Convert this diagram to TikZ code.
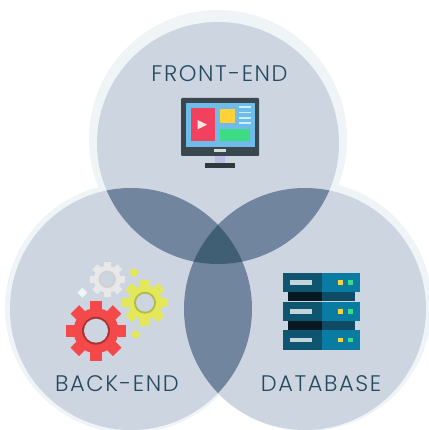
\documentclass[tikz,border=0pt]{standalone}
\usepackage{fontspec}
\setmainfont{Poppins Light}[LetterSpace=7]
\usepackage{xcolor}
\definecolor{mybase}{HTML}{CDD5E1}
\definecolor{myhalo}{HTML}{EFF4F7}
\definecolor{mylens}{HTML}{71859F}
\definecolor{mycore}{HTML}{415F74}
\definecolor{mytext}{HTML}{254A60}
\definecolor{mydark}{HTML}{3B474F}
\definecolor{myteal}{HTML}{0F5570}
\definecolor{mycyan}{HTML}{0A7BA3}
\definecolor{myscreen}{HTML}{6FBCE8}
\definecolor{myred}{HTML}{F2405F}
\definecolor{myyellow}{HTML}{FFD23A}
\definecolor{mygreen}{HTML}{3DDC84}
\definecolor{mygearred}{HTML}{F4494B}
\definecolor{mygearlime}{HTML}{E3E85A}
\tikzset{
  label/.style={inner sep=0,text=mytext,font=\fontsize{22.5}{24}\selectfont}
}
% gear: center, outer radius, root radius, hole radius, inner radius, colours
\newcommand{\mygear}[8]{
  \fill[#6] (#1) circle (#3);
  \foreach \ang in {0,45,...,315}{
    \fill[#6,rotate around={\ang:(#1)}] ([shift={(-#2*0.2,0)}]#1) ++(0,-#3+1) -- ++(#2*0.4,0) -- ++(0,-#2+#3-1) -- ++(-#2*0.4,0) -- cycle;
  }
  \fill[#7] (#1) circle (#4);
  \fill[#8] (#1) circle (#5);
}
\newcommand{\mysparkle}[3]{
  \fill[#3] (#1) ++(-#2,0) -- ++(#2,-#2) -- ++(#2,#2) -- ++(-#2,#2) -- cycle;
}
\begin{document}
\begin{tikzpicture}[x=1pt,y=-1pt]
\useasboundingbox (0,0) rectangle (428,430);

% The circles
\coordinate (top) at (218,143);
\coordinate (left) at (131,309);
\coordinate (right) at (305,309);
\def\rad{121}

\fill[myhalo] (218,139) circle (129);
\fill[myhalo] (130,308) circle (125);
\fill[myhalo] (307,306) circle (125);
\fill[mybase] (top) circle (\rad);
\fill[mybase] (left) circle (\rad);
\fill[mybase] (right) circle (\rad);

% The overlaps
\begin{scope}
  \clip (top) circle (\rad);
  \fill[mylens] (left) circle (\rad);
  \fill[mylens] (right) circle (\rad);
\end{scope}
\begin{scope}
  \clip (left) circle (\rad);
  \fill[mylens] (right) circle (\rad);
  \clip (right) circle (\rad);
  \fill[mycore] (top) circle (\rad);
\end{scope}

% The monitor
\fill[mydark,rounded corners=1pt] (181,98) rectangle (259,156);
\fill[mydark!80!black] (205,163) rectangle (235,168);
\fill[blue!10!mybase] (215,156) rectangle (225,163);
\fill[myscreen] (186,103) rectangle (255,147);
\fill[myred] (191,108) rectangle (215,141);
\fill[white!90!red] (197.5,120) -- (207,124.7) -- (197.5,129.5) -- cycle;
\fill[myyellow] (220,109) rectangle (235,123);
\fill[mygreen] (220,129) rectangle (250,141);
\foreach \y in {107.3,112.7,118.3,123.3}
  \fill[white!80!cyan] (239,\y-0.8) rectangle (251,\y+0.8);
\fill[white!85!black] (214,149.5) rectangle (226,152);

% The gears
\mygear{107.3,279.3}{17.7}{13.5}{8.7}{6.5}{black!9}{black!18}{mybase}
\mygear{145,302.7}{23}{17}{11}{9}{mygearlime}{mygearlime!80!black}{mybase}
\mygear{96,330.7}{30}{22.5}{14}{12}{mygearred}{mygearred!70!black}{mybase}
\mysparkle{134,272.3}{5}{mygearlime}
\mysparkle{135.7,334.3}{5}{mygearlime}
\mysparkle{82.3,292.7}{5}{myhalo}

% The servers
\foreach \y in {291.7,320.7}{
  \fill[black!70!myteal] (288.3,\y) rectangle (321.7,\y+9.6);
  \fill[myteal!90!black] (321.7,\y) rectangle (355,\y+9.6);
}
\foreach \y in {272.7,301.5,330.3}{
  \fill[myteal] (283.3,\y) rectangle (321.7,\y+19.4);
  \fill[mycyan] (321.7,\y) rectangle (360,\y+19.4);
  \fill[white!75!myteal] (290,\y+7.4) rectangle (311.7,\y+12);
  \fill[myyellow] (338.4,\y+7.4) rectangle (343,\y+12);
  \fill[mygreen] (348.4,\y+7.4) rectangle (353,\y+12);
}

% The labels
\node[label] (front) at (219.5,74) {FRONT-END};
\node[label] (back) at (117,384) {BACK-END};
\node[label] (base) at (321,384) {DATABASE};

\end{tikzpicture}
\end{document}
